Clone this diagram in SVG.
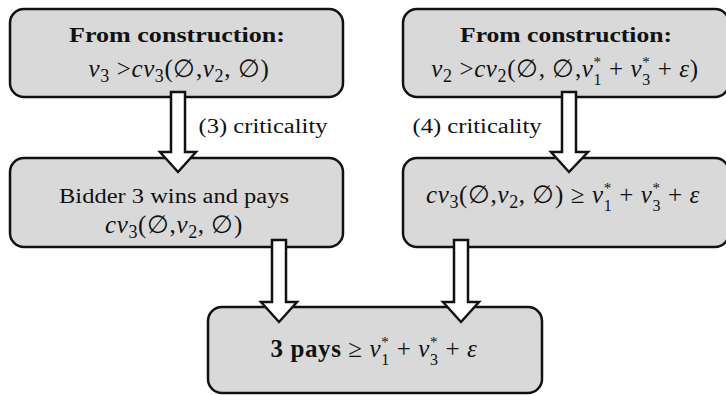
<svg xmlns="http://www.w3.org/2000/svg" width="726" height="395" viewBox="0 0 726 395">
<style>
.box{fill:#d9d9d9;stroke:#111;stroke-width:2.5}
.arr{fill:#fff;stroke:#111;stroke-width:2.5;stroke-linejoin:miter}
text{font-family:"Liberation Serif","DejaVu Serif",serif;fill:#111;font-size:20px}
.b{font-weight:bold}
.m{font-size:25px;letter-spacing:0.6px}
.i{font-style:italic}
.sb{font-size:18px}
.s1{font-size:16px}
.sp{font-size:15px}
</style>
<rect width="726" height="395" fill="#fff"/>
<g id="n1">
<rect class="box" x="10" y="9" width="333" height="88" rx="14"/>
<text class="b" x="177" y="42" text-anchor="middle" textLength="216" lengthAdjust="spacingAndGlyphs">From construction:</text>
<text class="m" x="179" y="77" text-anchor="middle"><tspan class="i">v</tspan><tspan class="sb" dy="5">3</tspan><tspan dy="-5"> &gt;</tspan><tspan class="i">cv</tspan><tspan class="sb" dy="5">3</tspan><tspan dy="-5">(∅,</tspan><tspan class="i">v</tspan><tspan class="sb" dy="5">2</tspan><tspan dy="-5">, ∅)</tspan></text>
</g>
<g id="n2">
<rect class="box" x="403" y="9" width="326" height="88" rx="14"/>
<text class="b" x="566" y="42" text-anchor="middle" textLength="212" lengthAdjust="spacingAndGlyphs">From construction:</text>
<text class="m" x="565" y="77" text-anchor="middle"><tspan class="i">v</tspan><tspan class="sb" dy="5">2</tspan><tspan dy="-5"> &gt;</tspan><tspan class="i">cv</tspan><tspan class="sb" dy="5">2</tspan><tspan dy="-5">(∅, ∅,</tspan><tspan class="i">v</tspan><tspan class="sp" dy="-10">*</tspan><tspan class="s1" dx="-8.1" dy="17.5">1</tspan><tspan dy="-7.5"> + </tspan><tspan class="i">v</tspan><tspan class="sp" dy="-10">*</tspan><tspan class="s1" dx="-8.1" dy="17.5">3</tspan><tspan dy="-7.5"> + </tspan><tspan class="i">ε</tspan><tspan>)</tspan></text>
</g>
<g id="n3">
<rect class="box" x="10" y="158" width="333" height="89" rx="14"/>
<text x="174" y="203" text-anchor="middle" textLength="230" lengthAdjust="spacingAndGlyphs">Bidder 3 wins and pays</text>
<text class="m" x="174" y="233" text-anchor="middle"><tspan class="i">cv</tspan><tspan class="sb" dy="5">3</tspan><tspan dy="-5">(∅,</tspan><tspan class="i">v</tspan><tspan class="sb" dy="5">2</tspan><tspan dy="-5">, ∅)</tspan></text>
</g>
<g id="n4">
<rect class="box" x="403" y="158" width="326" height="89" rx="14"/>
<text class="m" x="563" y="203" text-anchor="middle"><tspan class="i">cv</tspan><tspan class="sb" dy="5">3</tspan><tspan dy="-5">(∅,</tspan><tspan class="i">v</tspan><tspan class="sb" dy="5">2</tspan><tspan dy="-5">, ∅) ≥ </tspan><tspan class="i">v</tspan><tspan class="sp" dy="-10">*</tspan><tspan class="s1" dx="-8.1" dy="17.5">1</tspan><tspan dy="-7.5"> + </tspan><tspan class="i">v</tspan><tspan class="sp" dy="-10">*</tspan><tspan class="s1" dx="-8.1" dy="17.5">3</tspan><tspan dy="-7.5"> + </tspan><tspan class="i">ε</tspan></text>
</g>
<g id="n5">
<rect class="box" x="208" y="307" width="334" height="86" rx="14"/>
<text class="m" x="374" y="357" text-anchor="middle"><tspan class="b">3 pays</tspan><tspan> ≥ </tspan><tspan class="i">v</tspan><tspan class="sp" dy="-10">*</tspan><tspan class="s1" dx="-8.1" dy="17.5">1</tspan><tspan dy="-7.5"> + </tspan><tspan class="i">v</tspan><tspan class="sp" dy="-10">*</tspan><tspan class="s1" dx="-8.1" dy="17.5">3</tspan><tspan dy="-7.5"> + </tspan><tspan class="i">ε</tspan></text>
</g>
<g id="connectors">
<polygon class="arr" points="171,92 185,92 185,152 196,152 178,172 160,152 171,152"/>
<polygon class="arr" points="562,92 576,92 576,152 588,152 569,172 551,152 562,152"/>
<polygon class="arr" points="272,240 286,240 286,302 297,302 279,322 261,302 272,302"/>
<polygon class="arr" points="454,240 468,240 468,302 479,302 461,322 443,302 454,302"/>
<text x="263" y="133" text-anchor="middle" textLength="129" lengthAdjust="spacingAndGlyphs">(3) criticality</text>
<text x="477" y="133" text-anchor="middle" textLength="129" lengthAdjust="spacingAndGlyphs">(4) criticality</text>
</g>
</svg>
